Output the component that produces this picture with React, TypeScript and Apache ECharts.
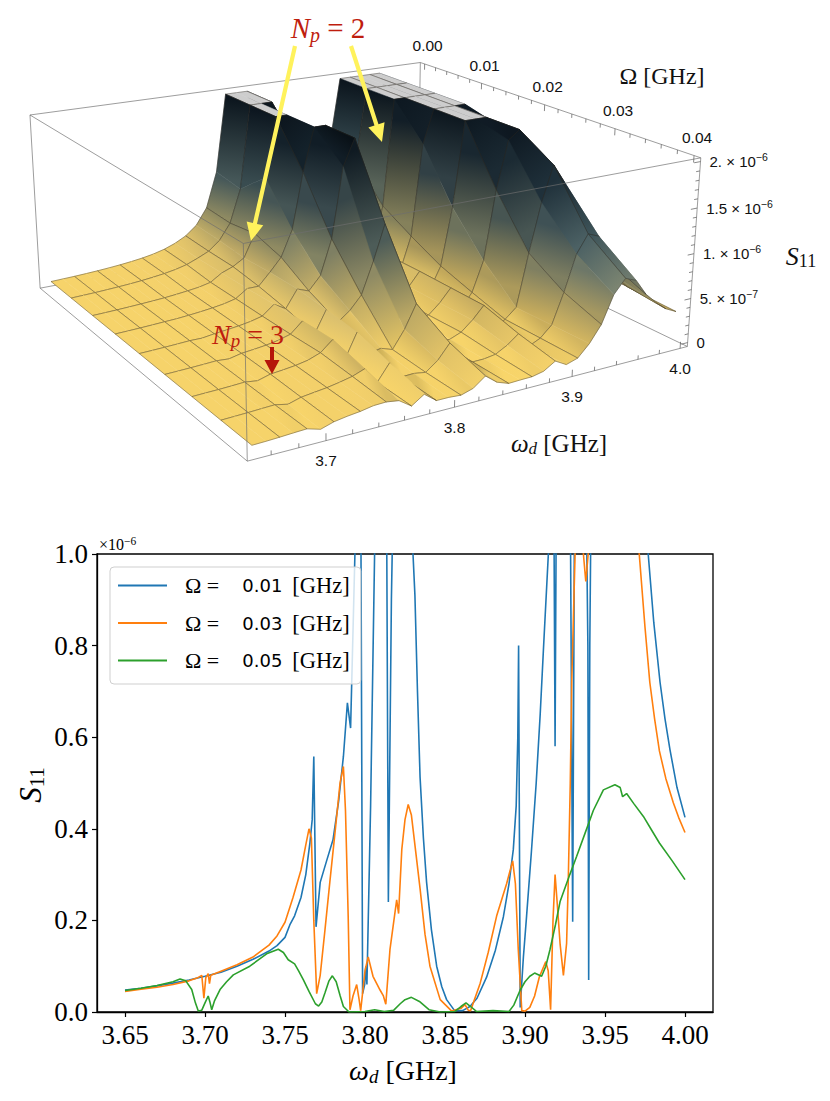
import React, { useEffect, useRef } from 'react';
import * as echarts from 'echarts';

// ================= 2D chart data =================
const xTicks2D = [3.65, 3.7, 3.75, 3.8, 3.85, 3.9, 3.95, 4.0];
const legendOmegas = ['0.01', '0.03', '0.05'];
const lineColors = ['#1f77b4', '#ff7f0e', '#2ca02c'];

const s11Omega001: number[][] = [
  [3.65, 0.048], [3.66, 0.052], [3.67, 0.057], [3.68, 0.063], [3.69, 0.07], [3.7, 0.078], [3.71, 0.087],
  [3.72, 0.1], [3.73, 0.115], [3.74, 0.133], [3.745, 0.145], [3.75, 0.163], [3.753, 0.19], [3.756, 0.21],
  [3.76, 0.25], [3.763, 0.3], [3.7656, 0.37], [3.767, 0.42], [3.768, 0.558], [3.7694, 0.186], [3.772, 0.283],
  [3.776, 0.33], [3.78, 0.376], [3.7835, 0.46], [3.7865, 0.558], [3.789, 0.675], [3.791, 0.62], [3.7937, 1.0],
  [3.7955, 1.6], [3.7975, 1.0], [3.7985, 0.04], [3.7998, 0.06], [3.8005, 0.1], [3.8012, 0.06], [3.8035, 0.45],
  [3.806, 1.0], [3.81, 1.5], [3.8135, 1.1], [3.8146, 0.24], [3.8165, 0.9], [3.818, 1.2], [3.823, 1.8],
  [3.8285, 1.2], [3.83, 1.0], [3.8312, 0.91], [3.8328, 0.7], [3.8344, 0.514], [3.8365, 0.38], [3.8385, 0.283],
  [3.8415, 0.18], [3.8448, 0.1], [3.848, 0.055], [3.851, 0.027], [3.856, 0.003], [3.861, 0.003], [3.8656, 0.012],
  [3.87, 0.03], [3.876, 0.076], [3.8815, 0.135], [3.8865, 0.208], [3.89, 0.28], [3.8927, 0.355], [3.8945, 0.45],
  [3.8955, 0.6], [3.896, 0.8], [3.8965, 0.4], [3.897, 0.01], [3.899, 0.12], [3.901, 0.21], [3.904, 0.35],
  [3.907, 0.5], [3.9095, 0.65], [3.9115, 0.79], [3.9146, 1.0], [3.9165, 1.4], [3.9182, 1.0], [3.9188, 0.58],
  [3.9194, 1.0], [3.922, 1.6], [3.926, 1.5], [3.9285, 1.0], [3.9298, 0.197], [3.9308, 1.0], [3.934, 1.6],
  [3.938, 1.2], [3.9393, 0.8], [3.9398, 0.07], [3.9405, 0.8], [3.942, 1.4], [3.95, 1.8], [3.965, 1.6],
  [3.972, 1.2], [3.977, 1.0], [3.9805, 0.85], [3.9844, 0.72], [3.9875, 0.64], [3.9906, 0.573], [3.995, 0.49],
  [4.0, 0.425],
];

const s11Omega003: number[][] = [
  [3.65, 0.045], [3.66, 0.05], [3.67, 0.054], [3.68, 0.06], [3.69, 0.068], [3.695, 0.074], [3.698, 0.08],
  [3.6993, 0.03], [3.7005, 0.075], [3.702, 0.084], [3.7028, 0.062], [3.7036, 0.08], [3.71, 0.089], [3.72, 0.103],
  [3.73, 0.12], [3.74, 0.146], [3.745, 0.166], [3.75, 0.196], [3.755, 0.25], [3.76, 0.31], [3.763, 0.365],
  [3.765, 0.4], [3.7665, 0.38], [3.768, 0.2], [3.7698, 0.04], [3.772, 0.08], [3.775, 0.18], [3.778, 0.283],
  [3.7815, 0.4], [3.7844, 0.5], [3.7865, 0.536], [3.7878, 0.44], [3.7895, 0.208], [3.7906, 0.005], [3.7925, 0.035],
  [3.7948, 0.06], [3.7962, 0.03], [3.7973, 0.003], [3.8, 0.09], [3.802, 0.12], [3.805, 0.078], [3.8094, 0.048],
  [3.8115, 0.035], [3.813, 0.017], [3.8156, 0.136], [3.8198, 0.245], [3.821, 0.215], [3.823, 0.355], [3.825, 0.42],
  [3.827, 0.453], [3.829, 0.43], [3.8344, 0.27], [3.8375, 0.17], [3.8406, 0.1], [3.847, 0.027], [3.8542, 0.002],
  [3.86, 0.008], [3.8625, 0.016], [3.8645, 0.004], [3.866, 0.003], [3.872, 0.063], [3.877, 0.13], [3.8823, 0.21],
  [3.8885, 0.28], [3.8923, 0.33], [3.894, 0.28], [3.8958, 0.136], [3.898, 0.003], [3.9, 0.002], [3.903, 0.01],
  [3.906, 0.035], [3.909, 0.077], [3.913, 0.11], [3.9145, 0.09], [3.916, 0.005], [3.9175, 0.2], [3.9188, 0.3],
  [3.9205, 0.22], [3.9219, 0.15], [3.924, 0.08], [3.926, 0.15], [3.927, 0.28], [3.9283, 0.5], [3.9292, 0.72],
  [3.9313, 1.0], [3.934, 1.3], [3.9365, 1.0], [3.938, 0.94], [3.9395, 1.0], [3.943, 1.4], [3.955, 1.8],
  [3.966, 1.3], [3.9714, 1.0], [3.975, 0.84], [3.978, 0.72], [3.981, 0.64], [3.984, 0.57], [3.988, 0.51],
  [3.9927, 0.457], [3.996, 0.425], [4.0, 0.392],
];

const s11Omega005: number[][] = [
  [3.65, 0.047], [3.66, 0.052], [3.67, 0.058], [3.68, 0.066], [3.6844, 0.072], [3.688, 0.068], [3.6917, 0.049],
  [3.694, 0.02], [3.6958, 0.002], [3.698, 0.004], [3.7, 0.02], [3.702, 0.035], [3.7032, 0.02], [3.7042, 0.005],
  [3.706, 0.025], [3.7094, 0.049], [3.7135, 0.066], [3.7177, 0.081], [3.728, 0.1], [3.7385, 0.127], [3.7458, 0.137],
  [3.749, 0.13], [3.752, 0.114], [3.756, 0.105], [3.7585, 0.09], [3.7615, 0.07], [3.765, 0.045], [3.769, 0.018],
  [3.771, 0.013], [3.773, 0.022], [3.775, 0.042], [3.7775, 0.068], [3.7796, 0.079], [3.782, 0.066], [3.7845, 0.035],
  [3.7865, 0.012], [3.79, 0.0], [3.8, 0.001], [3.806, 0.005], [3.812, 0.001], [3.818, 0.004], [3.822, 0.018],
  [3.825, 0.027], [3.829, 0.032], [3.834, 0.023], [3.84, 0.005], [3.847, 0.0], [3.856, 0.001], [3.86, 0.012],
  [3.8631, 0.02], [3.866, 0.012], [3.8698, 0.001], [3.88, 0.003], [3.89, 0.001], [3.893, 0.015], [3.897, 0.048],
  [3.9, 0.066], [3.903, 0.078], [3.906, 0.085], [3.908, 0.082], [3.9104, 0.078], [3.913, 0.1], [3.9156, 0.136],
  [3.919, 0.19], [3.922, 0.242], [3.928, 0.3], [3.9323, 0.34], [3.9375, 0.39], [3.9427, 0.44], [3.949, 0.485],
  [3.9562, 0.496], [3.9595, 0.49], [3.961, 0.47], [3.9635, 0.477], [3.968, 0.455], [3.974, 0.427], [3.979, 0.398],
  [3.984, 0.369], [3.992, 0.33], [4.0, 0.289],
];

// ================= 3D surface data (S11 in units of 1e-6) =================
const surfOmegaD = [
  3.65, 3.66, 3.67, 3.68, 3.69, 3.7, 3.71, 3.72, 3.73, 3.74, 3.75, 3.76, 3.77, 3.78, 3.79, 3.8, 3.81, 3.82,
  3.83, 3.84, 3.85, 3.86, 3.87, 3.88, 3.89, 3.9, 3.91, 3.92, 3.93, 3.94, 3.95, 3.96, 3.97, 3.98, 3.99, 4.0,
];
const surfOmega = [0, 0.005, 0.01, 0.015, 0.02, 0.025, 0.03, 0.035, 0.04];
const surfRow000 = [0.05, 0.055, 0.06, 0.067, 0.075, 0.085, 0.097, 0.112, 0.13, 0.155, 0.19, 0.24, 0.31, 0.42, 0.62, 1.05, 2.4, 3.0, 2.4, 1.1, 0.45, 0.22, 0.16, 0.22, 0.4, 0.7, 1.2, 2.3, 3.0, 3.0, 3.0, 2.4, 1.6, 1.15, 0.9, 0.75];
const surfRow005 = [0.049, 0.054, 0.059, 0.066, 0.074, 0.083, 0.095, 0.11, 0.128, 0.152, 0.186, 0.24, 0.3, 0.41, 0.6, 1.0, 2.2, 3.0, 2.5, 1.2, 0.35, 0.12, 0.09, 0.16, 0.35, 0.62, 1.1, 2.2, 3.0, 2.8, 3.0, 2.5, 1.65, 1.1, 0.8, 0.62];
const surfRow010 = [0.048, 0.052, 0.057, 0.063, 0.07, 0.078, 0.087, 0.1, 0.115, 0.133, 0.163, 0.25, 0.3, 0.38, 0.65, 1.3, 2.3, 2.6, 1.6, 0.3, 0.04, 0.005, 0.03, 0.13, 0.3, 0.15, 0.7, 2.2, 2.6, 2.4, 2.8, 2.6, 1.6, 0.85, 0.57, 0.425];
const surfRow015 = [0.048, 0.052, 0.057, 0.063, 0.07, 0.076, 0.087, 0.1, 0.116, 0.136, 0.168, 0.26, 0.26, 0.4, 0.55, 0.85, 1.5, 2.4, 2.2, 0.6, 0.06, 0.008, 0.035, 0.14, 0.3, 0.1, 0.5, 1.6, 2.3, 2.3, 2.5, 2.2, 1.4, 0.8, 0.55, 0.42];
const surfRow020 = [0.047, 0.051, 0.056, 0.062, 0.069, 0.068, 0.087, 0.101, 0.117, 0.139, 0.172, 0.28, 0.2, 0.4, 0.35, 0.5, 0.9, 1.7, 2.0, 0.5, 0.04, 0.008, 0.04, 0.15, 0.31, 0.06, 0.32, 1.0, 2.0, 2.2, 2.2, 1.9, 1.25, 0.76, 0.53, 0.41];
const surfRow025 = [0.046, 0.05, 0.055, 0.061, 0.068, 0.058, 0.088, 0.102, 0.118, 0.142, 0.18, 0.3, 0.12, 0.37, 0.2, 0.3, 0.45, 0.8, 1.2, 0.35, 0.02, 0.01, 0.045, 0.16, 0.31, 0.03, 0.2, 0.55, 1.35, 1.9, 2.05, 1.75, 1.1, 0.7, 0.51, 0.4];
const surfRow030 = [0.045, 0.05, 0.054, 0.06, 0.068, 0.05, 0.089, 0.103, 0.12, 0.146, 0.196, 0.31, 0.06, 0.33, 0.06, 0.09, 0.045, 0.24, 0.5, 0.15, 0.012, 0.008, 0.06, 0.17, 0.31, 0.003, 0.09, 0.2, 0.8, 1.35, 1.75, 1.55, 1.0, 0.66, 0.5, 0.39];
const surfRow035 = [0.045, 0.05, 0.055, 0.062, 0.068, 0.04, 0.08, 0.098, 0.115, 0.14, 0.17, 0.22, 0.04, 0.22, 0.035, 0.04, 0.02, 0.12, 0.28, 0.08, 0.008, 0.01, 0.03, 0.1, 0.2, 0.03, 0.09, 0.21, 0.55, 0.95, 1.15, 1.1, 0.8, 0.58, 0.45, 0.36];
const surfRow040 = [0.046, 0.05, 0.056, 0.064, 0.07, 0.03, 0.072, 0.094, 0.11, 0.135, 0.14, 0.12, 0.03, 0.12, 0.02, 0.02, 0.01, 0.05, 0.15, 0.05, 0.005, 0.01, 0.012, 0.04, 0.12, 0.05, 0.09, 0.22, 0.4, 0.7, 0.85, 0.8, 0.62, 0.5, 0.4, 0.34];
const surfRows = [surfRow000, surfRow005, surfRow010, surfRow015, surfRow020, surfRow025, surfRow030, surfRow035, surfRow040];

// 3D axis ticks
const wdMajor3D = [3.7, 3.8, 3.9, 4.0];
const wdMinor3D = [3.66, 3.68, 3.72, 3.74, 3.76, 3.78, 3.82, 3.84, 3.86, 3.88, 3.92, 3.94, 3.96, 3.98];
const omMajor3D = [0, 0.01, 0.02, 0.03, 0.04];
const omMajorLabels3D = ['0.00', '0.01', '0.02', '0.03', '0.04'];
const omMinor3D = [0.002, 0.004, 0.006, 0.008, 0.012, 0.014, 0.016, 0.018, 0.022, 0.024, 0.026, 0.028, 0.032, 0.034, 0.036, 0.038];
const sMajor3D = [0, 0.5, 1.0, 1.5, 2.0];
const sMajorMant3D = ['0', '5. × 10', '1. × 10', '1.5 × 10', '2. × 10'];
const sMajorExp3D = ['', '−7', '−6', '−6', '−6'];
const sMinor3D = [0.1, 0.2, 0.3, 0.4, 0.6, 0.7, 0.8, 0.9, 1.1, 1.2, 1.3, 1.4, 1.6, 1.7, 1.8, 1.9];

// ================= 3D projection (layout) =================
const BOX_WD = [3.643, 4.007];
const BOX_OM = [-0.0008, 0.0408];
const BOX_S = [-0.045, 2.04];
const S_CLIP = 2.0;
const CAM_REF: number[][] = [
  [0, 0, 0, 41, 288], [0, 0, 1, 29, 114], [1, 0, 1, 420, 63], [0, 1, 0, 247, 461], [0, 1, 1, 245, 245],
  [1, 1, 0, 688, 347], [1, 1, 1, 700, 157], [1, 0.5, 1, 545, 105], [1, 0.26, 1, 482, 84], [1, 0.74, 1, 615, 128.5],
  [0.1566, 1, 0, 325, 440], [0.4313, 1, 0, 454, 408], [0.706, 1, 0, 572, 377], [1, 1, 0.501, 694, 252],
];

function fitCamera(pts: number[][]): number[] | null {
  const N = 11;
  const M: number[][] = [];
  for (let i = 0; i < N; i++) M.push(new Array(N + 1).fill(0));
  for (const [X, Y, Z, x, y] of pts) {
    const rows: [number[], number][] = [
      [[X, Y, Z, 1, 0, 0, 0, 0, -x * X, -x * Y, -x * Z], x],
      [[0, 0, 0, 0, X, Y, Z, 1, -y * X, -y * Y, -y * Z], y],
    ];
    for (const [r, b] of rows) {
      for (let i = 0; i < N; i++) {
        M[i][N] += r[i] * b;
        for (let j = 0; j < N; j++) M[i][j] += r[i] * r[j];
      }
    }
  }
  for (let c = 0; c < N; c++) {
    let p = c;
    for (let r = c + 1; r < N; r++) if (Math.abs(M[r][c]) > Math.abs(M[p][c])) p = r;
    const tmp = M[c]; M[c] = M[p]; M[p] = tmp;
    if (Math.abs(M[c][c]) < 1e-12) return null;
    for (let r = 0; r < N; r++) {
      if (r === c) continue;
      const f = M[r][c] / M[c][c];
      for (let k = c; k <= N; k++) M[r][k] -= f * M[c][k];
    }
  }
  const sol = M.map((row, i) => row[N] / row[i]);
  return sol.every((v) => isFinite(v)) ? sol : null;
}
const CAM = fitCamera(CAM_REF);

function lerp2(a: number[], b: number[], t: number) { return [a[0] + (b[0] - a[0]) * t, a[1] + (b[1] - a[1]) * t]; }
function projN(u: number, v: number, w: number): number[] {
  if (CAM) {
    const m = CAM;
    const d = m[8] * u + m[9] * v + m[10] * w + 1;
    return [(m[0] * u + m[1] * v + m[2] * w + m[3]) / d, (m[4] * u + m[5] * v + m[6] * w + m[7]) / d, d];
  }
  const c = (i: number) => [CAM_REF[i][3], CAM_REF[i][4]];
  const b0 = lerp2(c(0), [416, 215], u), b1 = lerp2(c(3), c(5), u);
  const t0 = lerp2(c(1), c(2), u), t1 = lerp2(c(4), c(6), u);
  const b = lerp2(b0, b1, v), t = lerp2(t0, t1, v);
  const p = lerp2(b, t, w);
  return [p[0], p[1], u - v];
}
function toN(wd: number, om: number, s: number) {
  return [
    (wd - BOX_WD[0]) / (BOX_WD[1] - BOX_WD[0]),
    (om - BOX_OM[0]) / (BOX_OM[1] - BOX_OM[0]),
    (s - BOX_S[0]) / (BOX_S[1] - BOX_S[0]),
  ];
}
function projData(wd: number, om: number, s: number) {
  const n = toN(wd, om, s);
  return projN(n[0], n[1], n[2]);
}

// painter's order for the surface cells (far first)
const dFar = projN(1, 0, 0)[2];
const dNear = projN(0, 1, 0)[2];
const cellItems: number[][] = [];
for (let iv = 0; iv < surfOmega.length - 1; iv++) {
  for (let iu = 0; iu < surfOmegaD.length - 1; iu++) cellItems.push([iu, iv]);
}
function cellDepth(c: number[]) {
  const wd = (surfOmegaD[c[0]] + surfOmegaD[c[0] + 1]) / 2;
  const om = (surfOmega[c[1]] + surfOmega[c[1] + 1]) / 2;
  return projData(wd, om, 0)[2];
}
cellItems.sort((a, b) => (dFar > dNear ? cellDepth(b) - cellDepth(a) : cellDepth(a) - cellDepth(b)));

// ---------- shading: colour by height, modulated by the surface normal ----------
const HPAL: [number, number[]][] = [
  [0, [248, 213, 106]], [0.15, [243, 208, 107]], [0.35, [220, 193, 110]], [0.6, [170, 164, 116]],
  [0.9, [108, 128, 124]], [1.2, [62, 88, 98]], [1.5, [34, 54, 66]], [2.0, [15, 27, 37]],
];
function heightRGB(s: number) {
  if (s <= HPAL[0][0]) return HPAL[0][1];
  for (let i = 0; i < HPAL.length - 1; i++) {
    if (s >= HPAL[i][0] && s <= HPAL[i + 1][0]) {
      const f = (s - HPAL[i][0]) / (HPAL[i + 1][0] - HPAL[i][0]);
      return HPAL[i][1].map((v, k) => v + (HPAL[i + 1][1][k] - v) * f);
    }
  }
  return HPAL[HPAL.length - 1][1];
}
const LU = 1, LV = 1, LW = 0.42;
const NU = surfOmegaD.length, NV = surfOmega.length;
function wAt(iu: number, iv: number) {
  return (Math.min(surfRows[iv][iu], S_CLIP) - BOX_S[0]) / (BOX_S[1] - BOX_S[0]);
}
function uAt(iu: number) { return (surfOmegaD[iu] - BOX_WD[0]) / (BOX_WD[1] - BOX_WD[0]); }
function vAt(iv: number) { return (surfOmega[iv] - BOX_OM[0]) / (BOX_OM[1] - BOX_OM[0]); }
function vertexRGB(iu: number, iv: number) {
  const s = Math.min(surfRows[iv][iu], S_CLIP);
  const base = heightRGB(s);
  const a = Math.max(0, iu - 1), b = Math.min(NU - 1, iu + 1);
  const c = Math.max(0, iv - 1), d = Math.min(NV - 1, iv + 1);
  const gu = ((wAt(b, iv) - wAt(a, iv)) * LW) / ((uAt(b) - uAt(a)) * LU);
  const gv = ((wAt(iu, d) - wAt(iu, c)) * LW) / ((vAt(d) - vAt(c)) * LV);
  const len = Math.sqrt(gu * gu + gv * gv + 1);
  const nx = -gu / len, ny = -gv / len, nz = 1 / len;
  const L = 0.74 + 0.26 * nz - 0.18 * Math.max(0, nx) + 0.05 * Math.max(0, ny);
  return base.map((v) => Math.max(0, Math.min(255, v * L)));
}
const rgbStr = (c: number[]) => `rgb(${Math.round(c[0])},${Math.round(c[1])},${Math.round(c[2])})`;
const avgRGB = (a: number[], b: number[]) => [(a[0] + b[0]) / 2, (a[1] + b[1]) / 2, (a[2] + b[2]) / 2];
const lum = (c: number[]) => 0.3 * c[0] + 0.59 * c[1] + 0.11 * c[2];
const meshStyle = { stroke: 'rgba(40,36,28,0.6)', lineWidth: 0.65 };

function renderCell(params: any, api: any) {
  const iu = api.value(0);
  const iv = api.value(1);
  const idx = [[iu, iv], [iu + 1, iv], [iu + 1, iv + 1], [iu, iv + 1]];
  const pts = idx.map(([a, b]) => {
    const p = projN(uAt(a), vAt(b), wAt(a, b));
    return api.coord([p[0], p[1]]);
  });
  const capped = idx.every(([a, b]) => surfRows[b][a] >= S_CLIP);
  let fill: any;
  if (capped) {
    fill = '#cdcdcd';
  } else {
    const cols = idx.map(([a, b]) => vertexRGB(a, b));
    const mid = (p: number[], q: number[]) => [(p[0] + q[0]) / 2, (p[1] + q[1]) / 2];
    const uA = avgRGB(cols[0], cols[3]), uB = avgRGB(cols[1], cols[2]);
    const vA = avgRGB(cols[0], cols[1]), vB = avgRGB(cols[3], cols[2]);
    let pA, pB, cA, cB;
    if (Math.abs(lum(uA) - lum(uB)) >= Math.abs(lum(vA) - lum(vB))) {
      pA = mid(pts[0], pts[3]); pB = mid(pts[1], pts[2]); cA = uA; cB = uB;
    } else {
      pA = mid(pts[0], pts[1]); pB = mid(pts[3], pts[2]); cA = vA; cB = vB;
    }
    if (Math.hypot(pB[0] - pA[0], pB[1] - pA[1]) < 0.5) {
      fill = rgbStr(avgRGB(cA, cB));
    } else {
      fill = {
        type: 'linear', x: pA[0], y: pA[1], x2: pB[0], y2: pB[1], global: true,
        colorStops: [{ offset: 0, color: rgbStr(cA) }, { offset: 1, color: rgbStr(cB) }],
      };
    }
  }
  const children: any[] = [
    { type: 'polygon', shape: { points: pts }, style: { fill, stroke: fill, lineWidth: 0.5 } },
  ];
  const seg = (a: number, b: number) => ({
    type: 'line', shape: { x1: pts[a][0], y1: pts[a][1], x2: pts[b][0], y2: pts[b][1] }, style: meshStyle,
  });
  children.push(seg(0, 1));
  children.push(seg(3, 2));
  if (iu % 2 === 0) children.push(seg(0, 3));
  if ((iu + 1) % 2 === 0 || iu + 1 === NU - 1) children.push(seg(1, 2));
  return { type: 'group', children };
}

// box edges: [u0,v0,w0,u1,v1,w1]
const backEdges = [[0, 0, 0, 1, 0, 0], [1, 0, 0, 1, 1, 0], [1, 0, 0, 1, 0, 1]];
const frontEdges = [
  [0, 1, 0, 1, 1, 0], [0, 0, 1, 1, 0, 1], [0, 1, 1, 1, 1, 1], [0, 0, 0, 0, 1, 0], [0, 0, 1, 0, 1, 1],
  [1, 0, 1, 1, 1, 1], [0, 0, 0, 0, 0, 1], [0, 1, 0, 0, 1, 1], [1, 1, 0, 1, 1, 1],
];
function renderEdge(edges: number[][]) {
  return (params: any, api: any) => {
    const e = edges[api.value(0)];
    const a = projN(e[0], e[1], e[2]);
    const b = projN(e[3], e[4], e[5]);
    const pa = api.coord([a[0], a[1]]);
    const pb = api.coord([b[0], b[1]]);
    return {
      type: 'line', shape: { x1: pa[0], y1: pa[1], x2: pb[0], y2: pb[1] },
      style: { stroke: 'rgba(110,110,110,0.85)', lineWidth: 0.8 },
    };
  };
}

const tickFont = 'Liberation Sans';
const tickStroke = { stroke: 'rgba(90,90,90,0.9)', lineWidth: 0.8 };

function renderWdTick(params: any, api: any) {
  const val = api.value(0);
  const major = api.value(1) === 1;
  const p0 = projData(val, BOX_OM[1], BOX_S[0]);
  const p1 = projData(val, BOX_OM[1], BOX_S[0] + (major ? 0.075 : 0.045));
  const a = api.coord([p0[0], p0[1]]);
  const b = api.coord([p1[0], p1[1]]);
  const children: any[] = [{ type: 'line', shape: { x1: a[0], y1: a[1], x2: b[0], y2: b[1] }, style: tickStroke }];
  if (major) {
    children.push({
      type: 'text', x: a[0], y: a[1] + 20,
      style: { text: val.toFixed(1), fontFamily: tickFont, fontSize: 15.5, fill: '#111', align: 'center', verticalAlign: 'middle' },
    });
  }
  return { type: 'group', children };
}

function renderOmTick(params: any, api: any) {
  const val = api.value(0);
  const major = api.value(1) === 1;
  const p0 = projData(BOX_WD[1], val, BOX_S[1]);
  const p1 = projData(BOX_WD[1], val, BOX_S[1] - (major ? 0.075 : 0.045));
  const a = api.coord([p0[0], p0[1]]);
  const b = api.coord([p1[0], p1[1]]);
  const children: any[] = [{ type: 'line', shape: { x1: a[0], y1: a[1], x2: b[0], y2: b[1] }, style: tickStroke }];
  if (major) {
    const li = omMajor3D.findIndex((t) => Math.abs(t - val) < 1e-9);
    children.push({
      type: 'text', x: a[0] + 3, y: a[1] - 18,
      style: { text: omMajorLabels3D[li], fontFamily: tickFont, fontSize: 15.5, fill: '#111', align: 'center', verticalAlign: 'middle' },
    });
  }
  return { type: 'group', children };
}

function renderSTick(params: any, api: any) {
  const val = api.value(0);
  const major = api.value(1) === 1;
  const p0 = projData(BOX_WD[1], BOX_OM[1], val);
  const p1 = projData(BOX_WD[1] - (major ? 0.006 : 0.0035), BOX_OM[1], val);
  const a = api.coord([p0[0], p0[1]]);
  const b = api.coord([p1[0], p1[1]]);
  const children: any[] = [{ type: 'line', shape: { x1: a[0], y1: a[1], x2: b[0], y2: b[1] }, style: tickStroke }];
  if (major) {
    const li = sMajor3D.findIndex((t) => Math.abs(t - val) < 1e-9);
    const exp = sMajorExp3D[li];
    children.push({
      type: 'text', x: a[0] + 9, y: a[1],
      style: {
        text: exp ? `{m|${sMajorMant3D[li]}}{e|${exp}}` : `{m|${sMajorMant3D[li]}}`,
        align: 'left', verticalAlign: 'middle',
        rich: {
          m: { fontFamily: tickFont, fontSize: 15, lineHeight: 20, fill: '#111' },
          e: { fontFamily: tickFont, fontSize: 10.5, lineHeight: 11, verticalAlign: 'top', fill: '#111' },
        },
      },
    });
  }
  return { type: 'group', children };
}

function arrowPolygon(x1: number, y1: number, x2: number, y2: number, sw: number, hw: number, hl: number) {
  const dx = x2 - x1, dy = y2 - y1;
  const L = Math.hypot(dx, dy);
  const ux = dx / L, uy = dy / L;
  const px = -uy, py = ux;
  const bx = x2 - ux * hl, by = y2 - uy * hl;
  return [
    [x1 + (px * sw) / 2, y1 + (py * sw) / 2], [bx + (px * sw) / 2, by + (py * sw) / 2], [bx + (px * hw) / 2, by + (py * hw) / 2],
    [x2, y2], [bx - (px * hw) / 2, by - (py * hw) / 2], [bx - (px * sw) / 2, by - (py * sw) / 2], [x1 - (px * sw) / 2, y1 - (py * sw) / 2],
  ];
}

const SERIF = 'Liberation Serif';
const RED = '#bf1d0e';
const YELLOW = '#fff25c';

function npRich(color: string, size: number) {
  return {
    n: { fontFamily: SERIF, fontStyle: 'italic', fontSize: size, lineHeight: size + 4, fill: color },
    p: { fontFamily: SERIF, fontStyle: 'italic', fontSize: Math.round(size * 0.68), lineHeight: Math.round(size * 0.5), verticalAlign: 'bottom', fill: color },
    e: { fontFamily: SERIF, fontSize: size, lineHeight: size + 4, fill: color },
  };
}

function buildOption() {
  const names = legendOmegas.map((o) => `Ω = ${o} [GHz]`);
  const datasets = [s11Omega001, s11Omega003, s11Omega005];
  return {
    animation: false,
    grid: [
      { left: 97, top: 554, width: 616, height: 458, show: true, borderColor: '#000', borderWidth: 1.3, backgroundColor: 'transparent' },
      { left: 0, top: 0, width: 830, height: 1101, show: false },
    ],
    xAxis: [
      {
        gridIndex: 0, type: 'value', min: 3.6325, max: 4.0175,
        axisLine: { show: true, onZero: false, lineStyle: { color: '#000', width: 1.3 } },
        axisTick: { show: true, customValues: xTicks2D, length: 5, lineStyle: { color: '#000', width: 1.2 } },
        axisLabel: { customValues: xTicks2D, formatter: (v: number) => v.toFixed(2), fontFamily: SERIF, fontSize: 27, color: '#000', margin: 9 },
        splitLine: { show: false },
      },
      { gridIndex: 1, type: 'value', min: 0, max: 830, show: false },
    ],
    yAxis: [
      {
        gridIndex: 0, type: 'value', min: 0, max: 1.0, interval: 0.2,
        axisLine: { show: true, onZero: false, lineStyle: { color: '#000', width: 1.3 } },
        axisTick: { show: true, length: 5, lineStyle: { color: '#000', width: 1.2 } },
        axisLabel: { formatter: (v: number) => v.toFixed(1), fontFamily: SERIF, fontSize: 27, color: '#000', margin: 9 },
        splitLine: { show: false },
      },
      { gridIndex: 1, type: 'value', min: 0, max: 1101, inverse: true, show: false },
    ],
    legend: {
      orient: 'vertical', left: 110, top: 567,
      padding: [7, 11, 12, 8], itemGap: 14.5, itemWidth: 49, itemHeight: 1.8,
      icon: 'rect',
      backgroundColor: 'rgba(255,255,255,0.8)', borderColor: '#cfcfcf', borderWidth: 1, borderRadius: 4,
      data: names,
      formatter: (name: string) => {
        const i = names.indexOf(name);
        return `{a|Ω =}{n|${legendOmegas[i]}}{b|[GHz]}`;
      },
      textStyle: {
        rich: {
          a: { fontFamily: SERIF, fontSize: 22, lineHeight: 22, color: '#000', padding: [0, 0, 0, 13] },
          n: { fontFamily: 'DejaVu Sans', fontSize: 18, lineHeight: 22, color: '#000', padding: [0, 0, 0, 23] },
          b: { fontFamily: SERIF, fontSize: 22.5, lineHeight: 22, color: '#000', padding: [0, 0, 0, 10] },
        },
      },
    },
    series: [
      ...datasets.map((d, i) => ({
        type: 'line', name: names[i], xAxisIndex: 0, yAxisIndex: 0, data: d,
        symbol: 'none', showSymbol: false, clip: true, z: 3,
        lineStyle: { color: lineColors[i], width: 1.6 }, itemStyle: { color: lineColors[i] },
      })),
      {
        type: 'custom', name: 'box-back', coordinateSystem: 'cartesian2d', xAxisIndex: 1, yAxisIndex: 1,
        data: backEdges.map((e, i) => [i, 0]), renderItem: renderEdge(backEdges), silent: true, z: 1,
      },
      {
        type: 'custom', name: 'surface', coordinateSystem: 'cartesian2d', xAxisIndex: 1, yAxisIndex: 1,
        data: cellItems, renderItem: renderCell, silent: true, z: 2,
      },
      {
        type: 'custom', name: 'box-front', coordinateSystem: 'cartesian2d', xAxisIndex: 1, yAxisIndex: 1,
        data: frontEdges.map((e, i) => [i, 0]), renderItem: renderEdge(frontEdges), silent: true, z: 4,
      },
      {
        type: 'custom', name: 'wd-ticks', coordinateSystem: 'cartesian2d', xAxisIndex: 1, yAxisIndex: 1,
        data: [...wdMajor3D.map((v) => [v, 1]), ...wdMinor3D.map((v) => [v, 0])], renderItem: renderWdTick, silent: true, z: 5,
      },
      {
        type: 'custom', name: 'om-ticks', coordinateSystem: 'cartesian2d', xAxisIndex: 1, yAxisIndex: 1,
        data: [...omMajor3D.map((v) => [v, 1]), ...omMinor3D.map((v) => [v, 0])], renderItem: renderOmTick, silent: true, z: 5,
      },
      {
        type: 'custom', name: 's-ticks', coordinateSystem: 'cartesian2d', xAxisIndex: 1, yAxisIndex: 1,
        data: [...sMajor3D.map((v) => [v, 1]), ...sMinor3D.map((v) => [v, 0])], renderItem: renderSTick, silent: true, z: 5,
      },
    ],
    graphic: [
      {
        type: 'text', x: 403, y: 1070, z: 10,
        style: {
          text: '{w|ω}{d|d}{g| [GHz]}', align: 'center', verticalAlign: 'middle',
          rich: {
            w: { fontFamily: SERIF, fontStyle: 'italic', fontSize: 28, lineHeight: 32, fill: '#000' },
            d: { fontFamily: SERIF, fontStyle: 'italic', fontSize: 19, lineHeight: 14, verticalAlign: 'bottom', fill: '#000' },
            g: { fontFamily: SERIF, fontSize: 28, lineHeight: 32, fill: '#000' },
          },
        },
      },
      {
        type: 'text', x: 30, y: 785, rotation: Math.PI / 2, z: 10,
        style: {
          text: '{s|S}{b|11}', align: 'center', verticalAlign: 'middle',
          rich: {
            s: { fontFamily: SERIF, fontStyle: 'italic', fontSize: 31, lineHeight: 34, fill: '#000' },
            b: { fontFamily: SERIF, fontSize: 21, lineHeight: 15, verticalAlign: 'bottom', fill: '#000' },
          },
        },
      },
      {
        type: 'text', x: 99, y: 544, z: 10,
        style: {
          text: '{a|×10}{b|−6}', align: 'left', verticalAlign: 'middle',
          rich: {
            a: { fontFamily: SERIF, fontSize: 16, lineHeight: 18, fill: '#000' },
            b: { fontFamily: SERIF, fontSize: 11.5, lineHeight: 10, verticalAlign: 'top', fill: '#000' },
          },
        },
      },
      {
        type: 'text', x: 662, y: 76, z: 10,
        style: { text: 'Ω [GHz]', fontFamily: SERIF, fontSize: 24, fill: '#111', align: 'center', verticalAlign: 'middle' },
      },
      {
        type: 'text', x: 801, y: 256, z: 10,
        style: {
          text: '{s|S}{b|11}', align: 'center', verticalAlign: 'middle',
          rich: {
            s: { fontFamily: SERIF, fontStyle: 'italic', fontSize: 26, lineHeight: 28, fill: '#111' },
            b: { fontFamily: SERIF, fontSize: 18, lineHeight: 12, verticalAlign: 'bottom', fill: '#111' },
          },
        },
      },
      {
        type: 'text', x: 559, y: 443, z: 10,
        style: {
          text: '{w|ω}{d|d}{g| [GHz]}', align: 'center', verticalAlign: 'middle',
          rich: {
            w: { fontFamily: SERIF, fontStyle: 'italic', fontSize: 25, lineHeight: 28, fill: '#111' },
            d: { fontFamily: SERIF, fontStyle: 'italic', fontSize: 17, lineHeight: 12, verticalAlign: 'bottom', fill: '#111' },
            g: { fontFamily: SERIF, fontSize: 25, lineHeight: 28, fill: '#111' },
          },
        },
      },
      { type: 'polygon', z: 20, shape: { points: arrowPolygon(295, 46, 251, 241, 4.2, 17, 18) }, style: { fill: YELLOW } },
      { type: 'polygon', z: 20, shape: { points: arrowPolygon(351, 46, 382, 142, 4.2, 17, 18) }, style: { fill: YELLOW } },
      {
        type: 'text', x: 328, y: 28, z: 20,
        style: { text: '{n|N}{p|p}{e| = 2}', align: 'center', verticalAlign: 'middle', rich: npRich(RED, 29) },
      },
      { type: 'polygon', z: 20, shape: { points: arrowPolygon(272, 347, 272, 374, 4, 15, 14) }, style: { fill: '#b5160a' } },
      {
        type: 'text', x: 248, y: 334, z: 20,
        style: { text: '{n|N}{p|p}{e| = 3}', align: 'center', verticalAlign: 'middle', rich: npRich(RED, 28) },
      },
    ],
  };
}

export default function App() {
  const ref = useRef<HTMLDivElement>(null);
  useEffect(() => {
    if (!ref.current) return;
    const chart = echarts.init(ref.current, undefined, { renderer: 'svg' });
    chart.setOption(buildOption() as any);
    return () => chart.dispose();
  }, []);
  return (
    <div
      ref={ref}
      style={{ position: 'absolute', left: 0, top: 0, width: 830, height: 1101, background: '#fff' }}
    />
  );
}
